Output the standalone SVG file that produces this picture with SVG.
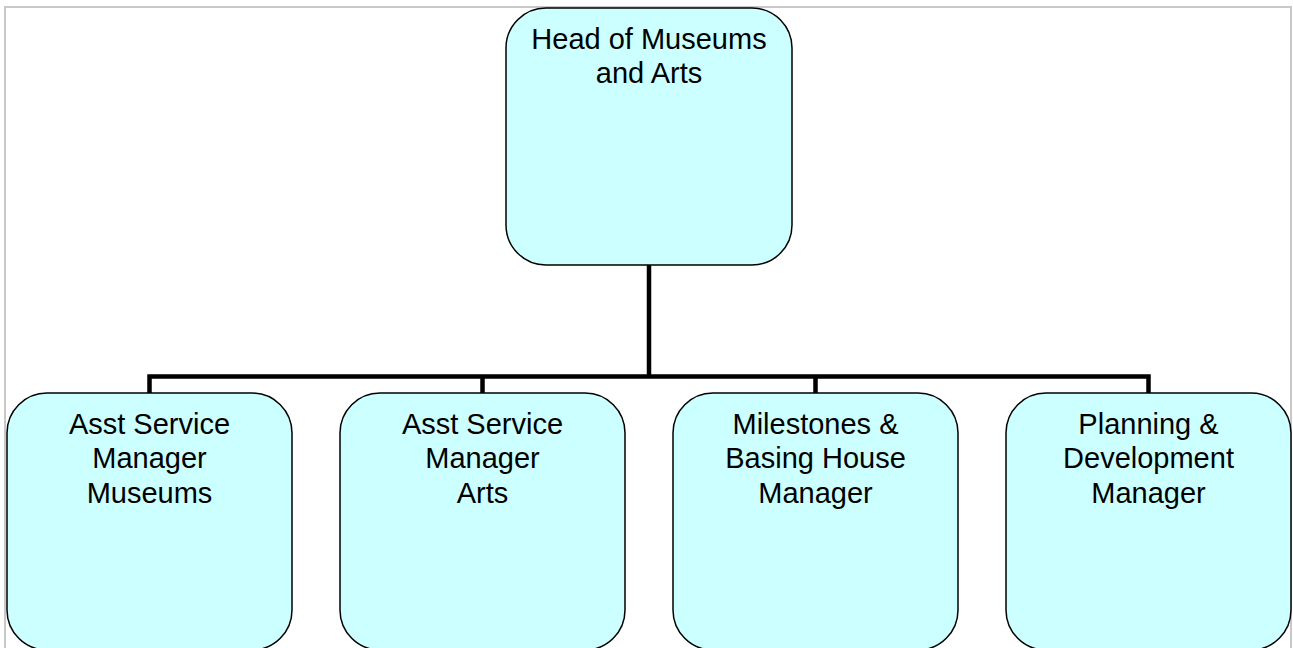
<svg xmlns="http://www.w3.org/2000/svg" width="1293" height="648" viewBox="0 0 1293 648">
<style>
.box{fill:#CCFFFF;stroke:#000;stroke-width:1.5}
.lbl{font-family:"Liberation Sans",Arial,sans-serif;font-size:29px;fill:#000;text-anchor:middle}
.conn{fill:none;stroke:#000;stroke-width:4.5;stroke-linejoin:miter;stroke-linecap:butt}
</style>
<rect x="0" y="0" width="1293" height="648" fill="#fff"/>
<rect x="5" y="7" width="1286" height="670" fill="none" stroke="#c8c8c8" stroke-width="2"/>
<g id="connectors">
<path class="conn" d="M649 265 V376.5"/>
<path class="conn" d="M149.5 393 V376.5 H1148.5 V393"/>
<path class="conn" d="M482.5 376.5 V393"/>
<path class="conn" d="M815.5 376.5 V393"/>
</g>
<g id="head">
<rect class="box" x="506" y="8" width="286" height="257" rx="40" ry="40"/>
<text class="lbl" x="649" y="49">Head of Museums</text>
<text class="lbl" x="649" y="83">and Arts</text>
</g>
<g id="asst-museums">
<rect class="box" x="7" y="393" width="285" height="257" rx="40" ry="40"/>
<text class="lbl" x="149.5" y="434">Asst Service</text>
<text class="lbl" x="149.5" y="468">Manager</text>
<text class="lbl" x="149.5" y="503">Museums</text>
</g>
<g id="asst-arts">
<rect class="box" x="340" y="393" width="285" height="257" rx="40" ry="40"/>
<text class="lbl" x="482.5" y="434">Asst Service</text>
<text class="lbl" x="482.5" y="468">Manager</text>
<text class="lbl" x="482.5" y="503">Arts</text>
</g>
<g id="milestones">
<rect class="box" x="673" y="393" width="285" height="257" rx="40" ry="40"/>
<text class="lbl" x="815.5" y="434">Milestones &amp;</text>
<text class="lbl" x="815.5" y="468">Basing House</text>
<text class="lbl" x="815.5" y="503">Manager</text>
</g>
<g id="planning">
<rect class="box" x="1006" y="393" width="285" height="257" rx="40" ry="40"/>
<text class="lbl" x="1148.5" y="434">Planning &amp;</text>
<text class="lbl" x="1148.5" y="468">Development</text>
<text class="lbl" x="1148.5" y="503">Manager</text>
</g>
</svg>
